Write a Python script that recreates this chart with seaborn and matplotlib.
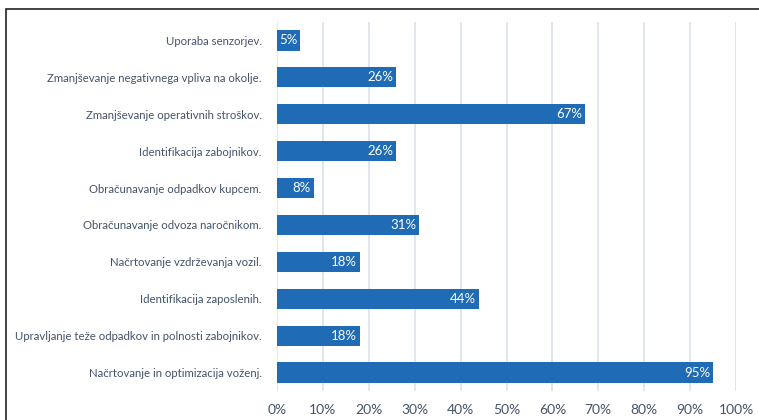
import pandas as pd
import matplotlib.pyplot as plt
import matplotlib.patches as mpatches
import seaborn as sns

# Data
categories = [
    'Uporaba senzorjev.',
    'Zmanjševanje negativnega vpliva na okolje.',
    'Zmanjševanje operativnih stroškov.',
    'Identifikacija zabojnikov.',
    'Obračunavanje odpadkov kupcem.',
    'Obračunavanje odvoza naročnikom.',
    'Načrtovanje vzdrževanja vozil.',
    'Identifikacija zaposlenih.',
    'Upravljanje teže odpadkov in polnosti zabojnikov.',
    'Načrtovanje in optimizacija voženj.',
]
values = [5, 26, 67, 26, 8, 31, 18, 44, 18, 95]
x_ticks = [0, 10, 20, 30, 40, 50, 60, 70, 80, 90, 100]

BAR_COLOR = '#1f6bb6'
TEXT_COLOR = '#44546a'
GRID_COLOR = '#d9e1ea'

def main():
    sns.set_style('white')
    plt.rcParams['font.family'] = ['Lato', 'DejaVu Sans']

    df = pd.DataFrame({'Kategorija': categories, 'Delež': values})

    fig = plt.figure(figsize=(7.59, 4.2), dpi=100)
    ax = fig.add_axes([277 / 759, 1 - 391 / 420, (736 - 277) / 759, (391 - 22) / 420])

    sns.barplot(data=df, x='Delež', y='Kategorija', orient='h', color=BAR_COLOR,
                saturation=1, width=0.55, linewidth=0, ax=ax, zorder=3)

    # value labels inside the bar end
    for i, v in enumerate(values):
        ax.text(v - 0.6, i, f'{v}%', ha='right', va='center',
                color='white', fontsize=9.5, zorder=4)

    ax.set_xlim(0, 100)
    ax.set_ylim(9.5, -0.5)
    ax.set_xticks(x_ticks)
    ax.set_xticklabels([f'{t}%' for t in x_ticks], color=TEXT_COLOR, fontsize=10)
    ax.tick_params(axis='y', labelsize=8.2, labelcolor=TEXT_COLOR, length=0, pad=11)
    ax.tick_params(axis='x', length=0, pad=9)
    ax.set_xlabel('')
    ax.set_ylabel('')
    ax.grid(axis='x', color=GRID_COLOR, linewidth=1.2, zorder=0)
    ax.grid(axis='y', visible=False)
    for s in ax.spines.values():
        s.set_visible(False)

    # chart frame, cut off at the right and bottom like the reference
    frame = mpatches.Rectangle((6 / 759, -0.1), 1.2, 1 - 9 / 420 + 0.1,
                               transform=fig.transFigure, fill=False,
                               edgecolor='#222222', linewidth=1.2)
    fig.patches.append(frame)

    fig.savefig('out.png', dpi=100)
    plt.close(fig)

if __name__ == '__main__':
    main()
